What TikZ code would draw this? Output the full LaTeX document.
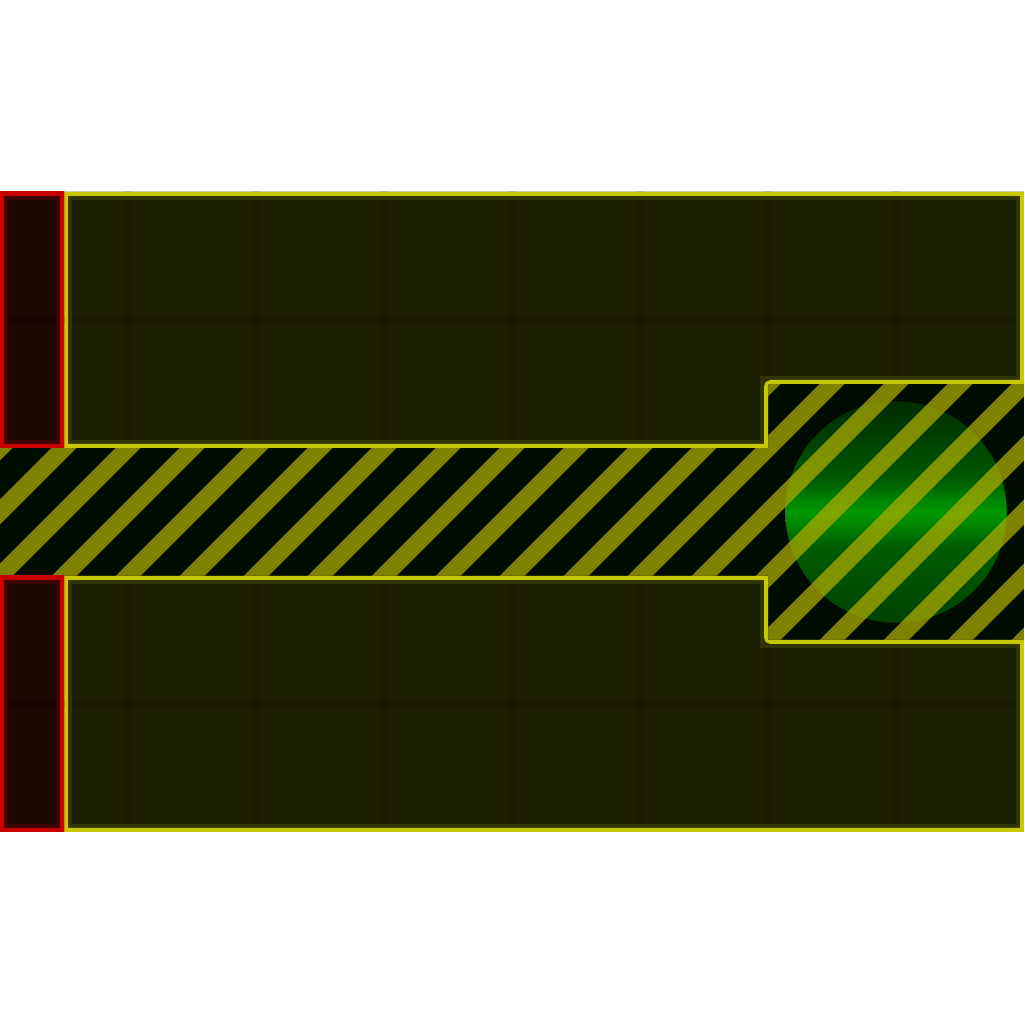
\documentclass[tikz,border=0pt]{standalone}
\definecolor{wallfill}{RGB}{28,32,0}
\definecolor{wallgrid}{RGB}{26,26,0}
\definecolor{wallinner}{RGB}{50,52,0}
\definecolor{walledge}{RGB}{200,200,0}
\definecolor{spawnfill}{RGB}{28,8,0}
\definecolor{spawngrid}{RGB}{24,5,0}
\definecolor{spawninner}{RGB}{60,6,0}
\definecolor{spawnedge}{RGB}{200,0,0}
\definecolor{floorbg}{RGB}{0,12,0}
\definecolor{stripecol}{RGB}{170,170,0}
\pgfdeclareverticalshading{goalshade}{100bp}{rgb(0bp)=(0,0.26,0); rgb(25bp)=(0,0.26,0);
  rgb(42bp)=(0,0.36,0); rgb(50bp)=(0,0.6,0); rgb(58bp)=(0,0.34,0);
  rgb(75bp)=(0,0.17,0); rgb(100bp)=(0,0.17,0)}
\newcommand{\tileblock}[2]{%
  \begin{scope}
    \clip #2;
    \fill[#1fill] #2;
    \foreach \gx in {2,4,...,14} \draw[#1grid,line width=0.08cm] (\gx,0) -- (\gx,16);
    \foreach \gy in {5,11} \draw[#1grid,line width=0.08cm] (0,\gy) -- (16,\gy);
    \draw[#1inner,line width=0.25cm] #2;
    \draw[#1edge,line width=0.125cm,rounded corners=0.05cm] #2;
  \end{scope}}
\begin{document}
\begin{tikzpicture}[x=1cm,y=1cm,
    goal/.style={circle,inner sep=0pt,minimum size=3.46cm,shading=goalshade},
    stripe/.style={stripecol,opacity=0.75,line width=0.276cm}]
  \useasboundingbox[fill=white] (0,0) rectangle (16,16);
  % corridor
  \begin{scope}
    \clip (0,7) -- (12,7) -- (12,6) -- (16,6) -- (16,10) -- (12,10) -- (12,9) -- (0,9) -- cycle;
    \fill[floorbg] (0,6) rectangle (16,10);
    \node[goal] (goal) at (14,8) {};
    \foreach \k in {-10,...,10} \draw[stripe] (-1,\k-1) -- (17,\k+17);
  \end{scope}
  % walls
  \tileblock{wall}{(1,13) -- (16,13) -- (16,10) -- (12,10) -- (12,9) -- (1,9) -- cycle}
  \tileblock{wall}{(1,3) -- (16,3) -- (16,6) -- (12,6) -- (12,7) -- (1,7) -- cycle}
  % spawn columns
  \tileblock{spawn}{(0,9) rectangle (1,13)}
  \tileblock{spawn}{(0,3) rectangle (1,7)}
\end{tikzpicture}
\end{document}
